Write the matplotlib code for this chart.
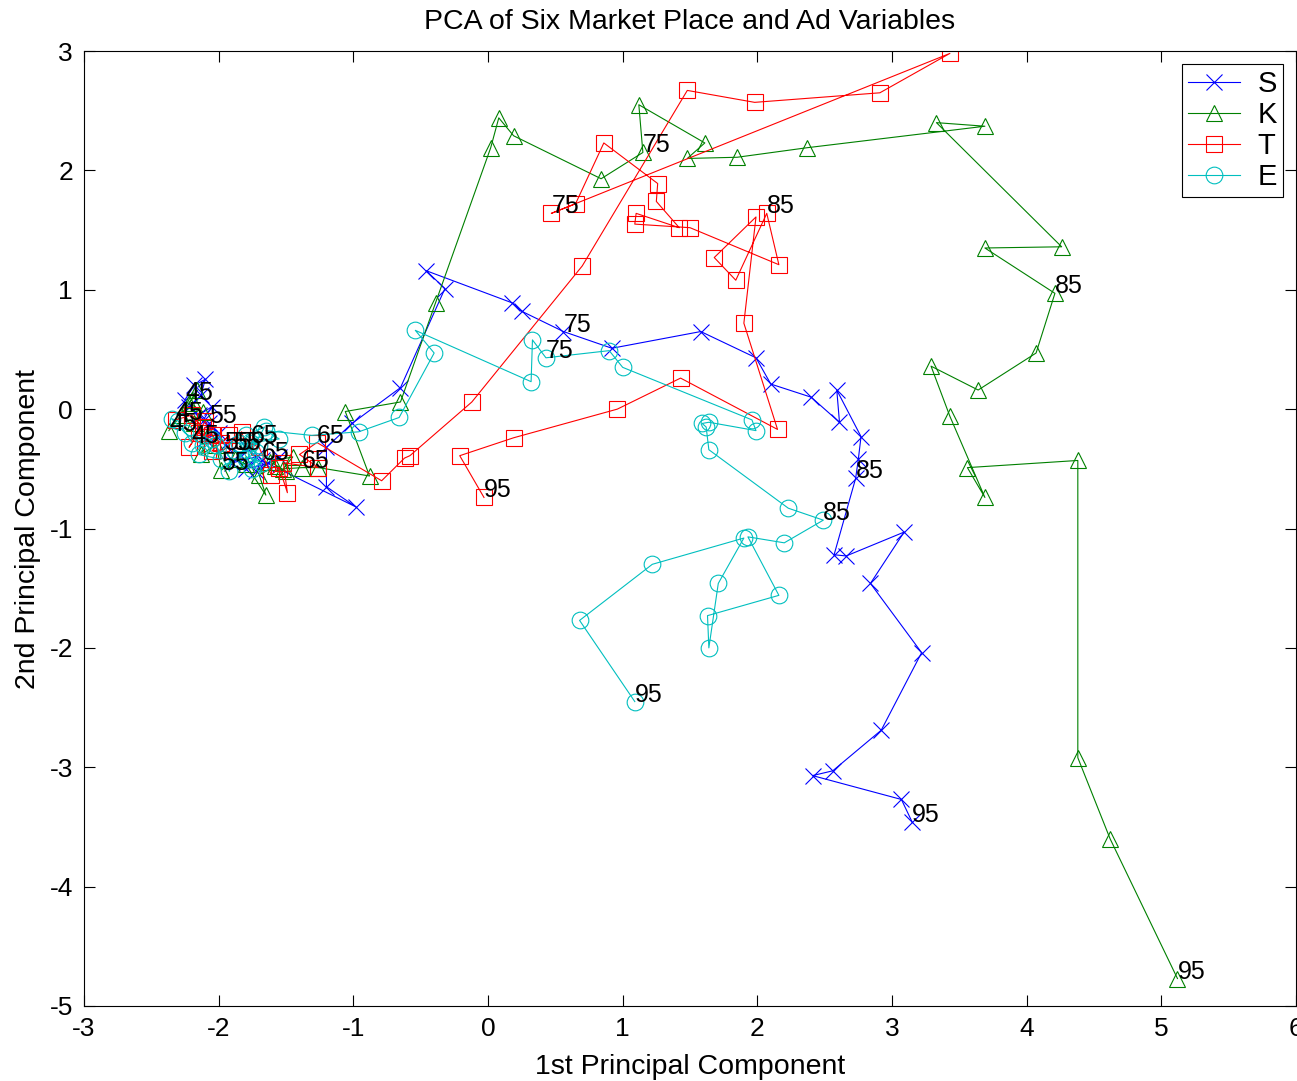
import matplotlib
matplotlib.use("Agg")
import matplotlib.pyplot as plt

plt.rcParams['font.family'] = ['Liberation Sans', 'DejaVu Sans']
plt.rcParams['axes.unicode_minus'] = False

# years 1945..1995, one point per year
years = list(range(45, 96))
label_years = [45, 55, 65, 75, 85, 95]

s_x = [-2.25, -2.18, -2.10, -2.13, -2.22, -2.15, -2.05, -2.12, -2.00, -2.10,
       -2.07, -1.95, -1.85, -1.78, -1.90, -1.72, -1.80, -1.65, -1.55, -1.72,
       -1.68, -0.98, -1.20, -1.20, -1.01, -0.65, -0.32, -0.46, 0.18, 0.25,
       0.56, 0.92, 1.58, 1.99, 2.10, 2.40, 2.61, 2.59, 2.77, 2.75,
       2.73, 2.57, 2.66, 3.09, 2.84, 3.22, 2.92, 2.56, 2.41, 3.07, 3.15]
s_y = [0.08, 0.20, 0.25, 0.12, 0.02, -0.05, 0.02, -0.10, -0.20, -0.25,
       -0.12, -0.30, -0.38, -0.33, -0.45, -0.40, -0.50, -0.46, -0.40, -0.52,
       -0.43, -0.82, -0.65, -0.32, -0.12, 0.18, 1.01, 1.16, 0.89, 0.82,
       0.65, 0.51, 0.65, 0.43, 0.21, 0.10, -0.11, 0.16, -0.23, -0.42,
       -0.58, -1.22, -1.23, -1.03, -1.46, -2.04, -2.69, -3.03, -3.07, -3.27, -3.46]

k_x = [-2.37, -2.28, -2.20, -2.16, -2.22, -2.12, -2.18, -2.08, -2.13, -2.02,
       -1.98, -1.88, -1.80, -1.65, -1.70, -1.58, -1.50, -1.62, -1.45, -1.52,
       -1.38, -1.26, -0.88, -1.06, -0.65, -0.39, 0.02, 0.08, 0.19, 0.84,
       1.15, 1.12, 1.61, 1.48, 1.85, 2.37, 3.69, 3.33, 4.26, 3.69,
       4.21, 4.07, 3.64, 3.29, 3.43, 3.69, 3.56, 4.38, 4.38, 4.62, 5.12]
k_y = [-0.18, -0.05, 0.08, 0.16, 0.05, -0.02, -0.12, -0.22, -0.38, -0.30,
       -0.51, -0.42, -0.46, -0.72, -0.55, -0.48, -0.52, -0.44, -0.40, -0.50,
       -0.49, -0.49, -0.56, -0.02, 0.06, 0.89, 2.19, 2.44, 2.29, 1.93,
       2.15, 2.55, 2.23, 2.10, 2.11, 2.19, 2.37, 2.40, 1.36, 1.35,
       0.97, 0.47, 0.16, 0.36, -0.06, -0.74, -0.49, -0.43, -2.92, -3.60, -4.77]

t_x = [-2.32, -2.20, -2.12, -2.22, -2.10, -2.05, -2.15, -1.98, -1.92, -2.05,
       -1.96, -1.83, -1.81, -1.70, -1.61, -1.55, -1.49, -1.52, -1.26, -1.40,
       -1.27, -0.79, -0.62, -0.58, -0.12, 0.70, 1.48, 1.98, 2.91, 3.43,
       0.47, 0.65, 0.86, 1.26, 1.25, 1.42, 1.10, 1.09, 1.50, 2.16,
       2.07, 1.84, 1.68, 1.99, 1.90, 2.15, 1.43, 0.96, 0.19, -0.21, -0.03]
t_y = [-0.09, -0.05, -0.15, -0.32, -0.10, -0.22, -0.20, -0.28, -0.22, -0.35,
       -0.34, -0.19, -0.26, -0.32, -0.55, -0.49, -0.70, -0.45, -0.49, -0.38,
       -0.28, -0.60, -0.41, -0.39, 0.06, 1.20, 2.67, 2.57, 2.65, 2.98,
       1.64, 1.72, 2.23, 1.89, 1.74, 1.52, 1.64, 1.55, 1.52, 1.21,
       1.64, 1.08, 1.27, 1.61, 0.72, -0.17, 0.26, 0.00, -0.24, -0.39, -0.74]

e_x = [-2.20, -2.30, -2.35, -2.25, -2.12, -2.05, -2.15, -1.98, -2.02, -1.92,
       -1.89, -1.80, -1.72, -1.85, -1.75, -1.68, -1.78, -1.66, -1.80, -1.70,
       -1.76, -1.55, -1.65, -1.31, -0.96, -0.66, -0.40, -0.54, 0.32, 0.33,
       0.43, 0.90, 1.00, 1.96, 1.99, 1.64, 1.59, 1.62, 1.64, 2.23,
       2.49, 2.20, 1.93, 2.16, 1.63, 1.64, 1.71, 1.90, 1.22, 0.68, 1.09]
e_y = [-0.28, -0.10, -0.08, -0.20, -0.30, -0.25, -0.38, -0.42, -0.30, -0.52,
       -0.34, -0.42, -0.36, -0.28, -0.50, -0.45, -0.40, -0.15, -0.22, -0.30,
       -0.28, -0.25, -0.18, -0.22, -0.19, -0.07, 0.47, 0.66, 0.23, 0.58,
       0.43, 0.49, 0.35, -0.09, -0.18, -0.11, -0.12, -0.15, -0.34, -0.83,
       -0.93, -1.12, -1.07, -1.56, -1.73, -2.00, -1.46, -1.08, -1.30, -1.77, -2.45]

series = [
    ("S", s_x, s_y, "x", (0, 0, 1)),
    ("K", k_x, k_y, "^", (0, 0.5, 0)),
    ("T", t_x, t_y, "s", (1, 0, 0)),
    ("E", e_x, e_y, "o", (0, 0.75, 0.75)),
]

fig = plt.figure(figsize=(12.97, 10.81), dpi=100)
ax = fig.add_axes([0.0648, 0.0694, 0.9344, 0.8834])

for name, xs, ys, mk, col in series:
    ax.plot(xs, ys, color=col, marker=mk, markersize=12, markerfacecolor='none',
            markeredgecolor=col, markeredgewidth=0.8, linewidth=0.8, label=name)

# decade labels at each series' 45, 55, ... 95 point
for name, xs, ys, mk, col in series:
    for yr in label_years:
        i = years.index(yr)
        ax.text(xs[i], ys[i], str(yr), fontsize=18, ha='left', va='baseline')

ax.set_xlim(-3, 6)
ax.set_ylim(-5, 3)
ax.set_xticks(range(-3, 7))
ax.set_yticks(range(-5, 4))
ax.tick_params(direction='in', length=8, top=True, right=True, labelsize=19, pad=8)
for sp in ax.spines.values():
    sp.set_linewidth(0.8)

ax.set_title("PCA of Six Market Place and Ad Variables", fontsize=20.5, pad=16)
ax.set_xlabel("1st Principal Component", fontsize=20.5, labelpad=9)
ax.set_ylabel("2nd Principal Component", fontsize=20.5, labelpad=6)

leg = ax.legend(loc='upper right', fontsize=21, handlelength=1.8, borderaxespad=0.45,
                fancybox=False, edgecolor='black', framealpha=1, labelspacing=0.1,
                handletextpad=0.6, borderpad=0.2)
leg.get_frame().set_linewidth(0.8)

fig.savefig("out.png", dpi=100)
